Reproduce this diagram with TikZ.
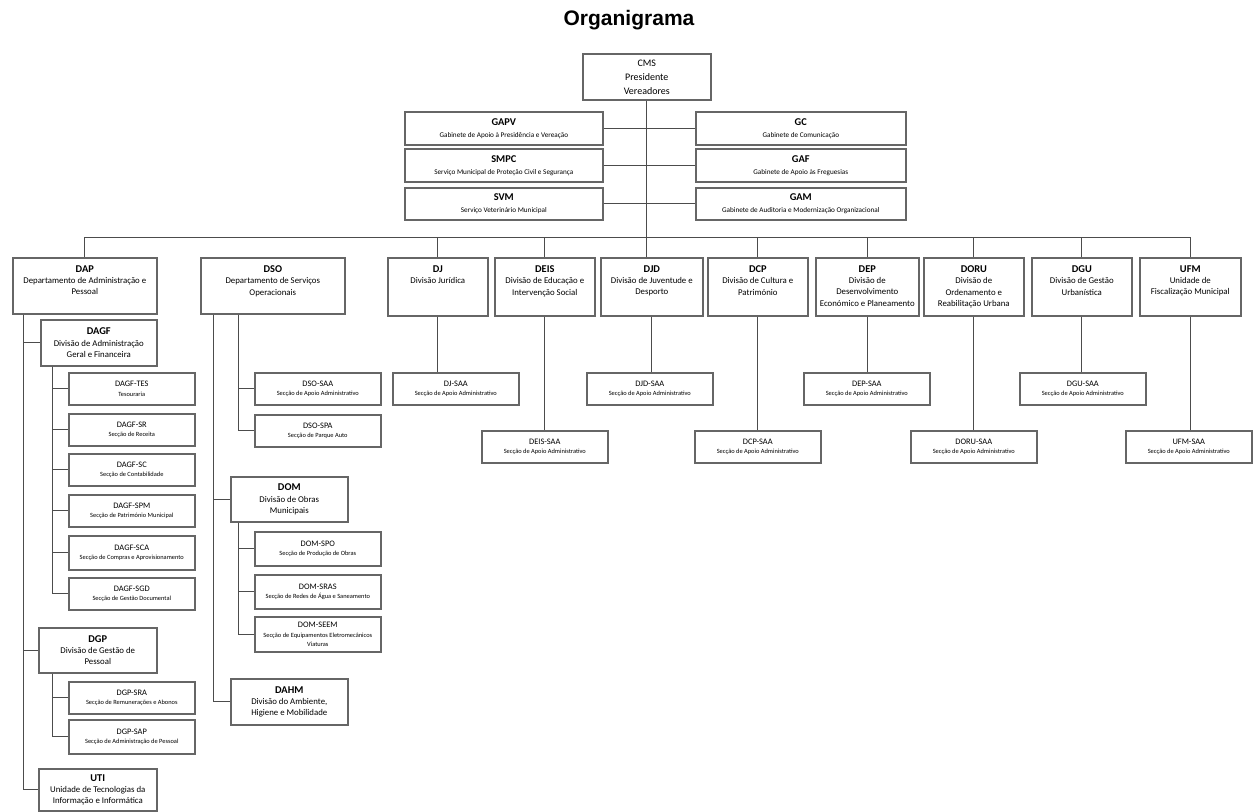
\documentclass[tikz,border=0pt]{standalone}
\usepackage{fontspec}
\setmainfont{Carlito}
\newfontfamily\titlefont{Liberation Sans}
\newcommand{\sigla}[1]{{\fontsize{5.2}{6}\selectfont\bfseries #1}}
\newcommand{\codigo}[1]{{\fontsize{4.2}{5}\selectfont #1}}
\newcommand{\caixa}[4][c]{\parbox[c][#3][#1]{#2}{\centering #4\par}}

\begin{document}
\begin{tikzpicture}[x=0.5pt, y=-0.5pt,
    box/.style={draw=black!60, line width=0.8pt, fill=white, inner sep=0pt, anchor=north west},
    cms/.style={box, font=\fontsize{5}{7}\selectfont},
    stf/.style={box, font=\fontsize{3.6}{6}\selectfont},
    div/.style={box, font=\fontsize{4.4}{5.6}\selectfont},
    sec/.style={box, font=\fontsize{3.2}{4.8}\selectfont},
    lig/.style={draw=black!70, line width=0.5pt}]
    \useasboundingbox (0,0) rectangle (1259,811);
    \node[font=\titlefont\fontsize{10.5}{12}\selectfont\bfseries] (titulo) at (629,20) {Organigrama};
    % camara
    \node[cms] (cms) at (582,53) {\caixa{64pt}{23pt}{CMS\\Presidente\\Vereadores}};
    % gabinetes e servicos de apoio
    \node[stf] (gapv) at (404,111) {\caixa{99pt}{16.5pt}{\sigla{GAPV}\\Gabinete de Apoio à Presidência e Vereação}};
    \node[stf] (smpc) at (404,148) {\caixa{99pt}{16.5pt}{\sigla{SMPC}\\Serviço Municipal de Proteção Civil e Segurança}};
    \node[stf] (svm) at (404,187) {\caixa{99pt}{16pt}{\sigla{SVM}\\Serviço Veterinário Municipal}};
    \node[stf] (gc) at (695,111) {\caixa{105pt}{16.5pt}{\sigla{GC}\\Gabinete de Comunicação}};
    \node[stf] (gaf) at (695,148) {\caixa{105pt}{16.5pt}{\sigla{GAF}\\Gabinete de Apoio às Freguesias}};
    \node[stf] (gam) at (695,187) {\caixa{105pt}{16pt}{\sigla{GAM}\\Gabinete de Auditoria e Modernização Organizacional}};
    % departamentos e divisoes
    \node[div] (dap) at (12,257) {\caixa[t]{72pt}{28pt}{\vspace*{4pt}\sigla{DAP}\\Departamento de Administração e\\Pessoal}};
    \node[div] (dso) at (200,257) {\caixa[t]{72pt}{28pt}{\vspace*{4pt}\sigla{DSO}\\Departamento de Serviços\\Operacionais}};
    \node[div] (dj) at (387,257) {\caixa[t]{50pt}{29pt}{\vspace*{4pt}\sigla{DJ}\\Divisão Jurídica}};
    \node[div] (deis) at (494,257) {\caixa[t]{50pt}{29pt}{\vspace*{4pt}\sigla{DEIS}\\Divisão de Educação e\\Intervenção Social}};
    \node[div] (djd) at (600,257) {\caixa[t]{51pt}{29pt}{\vspace*{4pt}\sigla{DJD}\\Divisão de Juventude e\\Desporto}};
    \node[div] (dcp) at (707,257) {\caixa[t]{50pt}{29pt}{\vspace*{4pt}\sigla{DCP}\\Divisão de Cultura e\\Património}};
    \node[div] (dep) at (815,257) {\caixa[t]{51.5pt}{29pt}{\vspace*{4pt}\sigla{DEP}\\Divisão de\\Desenvolvimento\\Económico e Planeamento}};
    \node[div] (doru) at (923,257) {\caixa[t]{50pt}{29pt}{\vspace*{4pt}\sigla{DORU}\\Divisão de\\Ordenamento e\\Reabilitação Urbana}};
    \node[div] (dgu) at (1031,257) {\caixa[t]{50pt}{29pt}{\vspace*{4pt}\sigla{DGU}\\Divisão de Gestão\\Urbanística}};
    \node[div] (ufm) at (1139,257) {\caixa[t]{50.5pt}{29pt}{\vspace*{4pt}\sigla{UFM}\\Unidade de\\Fiscalização Municipal}};
    % divisoes de segundo nivel
    \node[div] (dagf) at (40,319) {\caixa{58pt}{23pt}{\sigla{DAGF}\\Divisão de Administração\\Geral e Financeira}};
    \node[div] (dgp) at (38,627) {\caixa{59pt}{22.5pt}{\sigla{DGP}\\Divisão de Gestão de\\Pessoal}};
    \node[div] (uti) at (38,768) {\caixa{59pt}{21pt}{\sigla{UTI}\\Unidade de Tecnologias da\\Informação e Informática}};
    \node[div] (dom) at (230,476) {\caixa{58.5pt}{22.5pt}{\sigla{DOM}\\Divisão de Obras\\Municipais}};
    \node[div] (dahm) at (230,678) {\caixa{58.5pt}{23pt}{\sigla{DAHM}\\Divisão do Ambiente,\\Higiene e Mobilidade}};
    % seccoes
    \foreach \nm/\x/\y/\h/\cod/\txt in {
        dagftes/68/372/16/DAGF-TES/Tesouraria,
        dagfsr/68/413/16/DAGF-SR/Secção de Receita,
        dagfsc/68/453/16/DAGF-SC/Secção de Contabilidade,
        dagfspm/68/494/16/DAGF-SPM/Secção de Património Municipal,
        dagfsca/68/535/17/DAGF-SCA/Secção de Compras e Aprovisionamento,
        dagfsgd/68/577/16/DAGF-SGD/Secção de Gestão Documental,
        dgpsra/68/681/16/DGP-SRA/Secção de Remunerações e Abonos,
        dgpsap/68/719/17/DGP-SAP/Secção de Administração de Pessoal,
        dsosaa/254/372/16/DSO-SAA/Secção de Apoio Administrativo,
        dsospa/254/414/16/DSO-SPA/Secção de Parque Auto,
        domspo/254/531/17/DOM-SPO/Secção de Produção de Obras,
        domsras/254/574/17/DOM-SRAS/Secção de Redes de Água e Saneamento,
        domseem/254/616/17.5/DOM-SEEM/{Secção de Equipamentos Eletromecânicos\\Viaturas},
        djsaa/392/372/16/DJ-SAA/Secção de Apoio Administrativo,
        djdsaa/586/372/16/DJD-SAA/Secção de Apoio Administrativo,
        depsaa/803/372/16/DEP-SAA/Secção de Apoio Administrativo,
        dgusaa/1019/372/16/DGU-SAA/Secção de Apoio Administrativo,
        deissaa/481/430/16/DEIS-SAA/Secção de Apoio Administrativo,
        dcpsaa/694/430/16/DCP-SAA/Secção de Apoio Administrativo,
        dorusaa/910/430/16/DORU-SAA/Secção de Apoio Administrativo,
        ufmsaa/1125/430/16/UFM-SAA/Secção de Apoio Administrativo} {
        \node[sec] (\nm) at (\x,\y) {\caixa{63pt}{\h pt}{\codigo{\cod}\\\txt}};
    }
    % ligacoes de topo
    \draw[lig] (cms.south) -- (cms.south |- djd.north);
    \draw[lig] (gapv.east) -- (gc.west);
    \draw[lig] (smpc.east) -- (gaf.west);
    \draw[lig] (svm.east) -- (gam.west);
    \coordinate (bus) at (647,237);
    \draw[lig] (dap.north) |- (bus) -| (ufm.north);
    \foreach \d in {dj,deis,dcp,dep,doru,dgu}
        \draw[lig] (\d.north) -- (\d.north |- bus);
    % seccoes das divisoes
    \foreach \d/\s in {dj/djsaa, deis/deissaa, djd/djdsaa, dcp/dcpsaa, dep/depsaa, doru/dorusaa, dgu/dgusaa, ufm/ufmsaa}
        \draw[lig] (\d.south) -- (\d.south |- \s.north);
    % ramos da esquerda
    \foreach \f in {dagf,dgp,uti}
        \draw[lig] ([xshift=5.5pt]dap.south west) |- (\f.west);
    \foreach \f in {dagftes,dagfsr,dagfsc,dagfspm,dagfsca,dagfsgd}
        \draw[lig] ([xshift=6pt]dagf.south west) |- (\f.west);
    \foreach \f in {dgpsra,dgpsap}
        \draw[lig] ([xshift=7pt]dgp.south west) |- (\f.west);
    \foreach \f in {dom,dahm}
        \draw[lig] ([xshift=6.5pt]dso.south west) |- (\f.west);
    \foreach \f in {dsosaa,dsospa}
        \draw[lig] ([xshift=19pt]dso.south west) |- (\f.west);
    \foreach \f in {domspo,domsras,domseem}
        \draw[lig] ([xshift=4pt]dom.south west) |- (\f.west);
\end{tikzpicture}
\end{document}
